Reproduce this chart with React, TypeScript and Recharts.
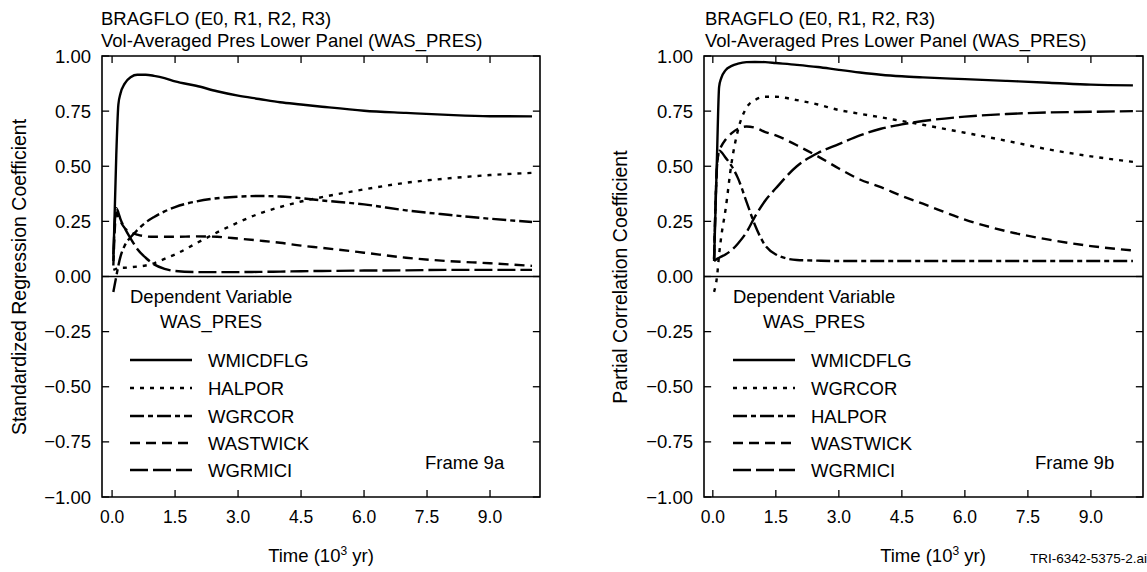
import React from "react";
import { LineChart, Line, XAxis, YAxis, ReferenceLine, ReferenceArea } from "recharts";

// time in 10^3 yr
const TIME = [0.03, 0.1, 0.15, 0.2, 0.3, 0.45, 0.6, 0.8, 1.0, 1.25, 1.5, 2.0, 2.5, 3.0, 3.5, 4.0, 4.5, 5.0, 6.0, 7.0, 8.0, 9.0, 10.0];

// Frame 9a - standardized regression coefficients
const SRC_WMICDFLG = [0.07, 0.55, 0.78, 0.83, 0.875, 0.905, 0.915, 0.915, 0.91, 0.9, 0.885, 0.865, 0.84, 0.82, 0.805, 0.79, 0.78, 0.77, 0.752, 0.742, 0.733, 0.727, 0.726];
const SRC_HALPOR = [0.03, 0.035, 0.04, 0.04, 0.04, 0.042, 0.045, 0.05, 0.06, 0.08, 0.1, 0.15, 0.2, 0.245, 0.285, 0.315, 0.34, 0.36, 0.395, 0.425, 0.445, 0.46, 0.47];
const SRC_WGRCOR = [-0.07, 0.0, 0.05, 0.09, 0.14, 0.18, 0.21, 0.245, 0.27, 0.295, 0.315, 0.34, 0.355, 0.362, 0.365, 0.363, 0.355, 0.345, 0.327, 0.3, 0.28, 0.262, 0.247];
const SRC_WASTWICK = [0.05, 0.29, 0.27, 0.25, 0.22, 0.2, 0.19, 0.182, 0.18, 0.18, 0.18, 0.182, 0.18, 0.172, 0.163, 0.153, 0.14, 0.13, 0.108, 0.085, 0.07, 0.06, 0.048];
const SRC_WGRMICI = [0.1, 0.31, 0.29, 0.26, 0.22, 0.17, 0.125, 0.085, 0.055, 0.035, 0.025, 0.02, 0.02, 0.02, 0.021, 0.022, 0.024, 0.025, 0.027, 0.028, 0.03, 0.03, 0.03];

// Frame 9b - partial correlation coefficients
const PCC_WMICDFLG = [0.07, 0.55, 0.86, 0.9, 0.935, 0.955, 0.965, 0.972, 0.973, 0.972, 0.968, 0.96, 0.95, 0.937, 0.925, 0.915, 0.908, 0.903, 0.895, 0.887, 0.879, 0.87, 0.867];
const PCC_WGRCOR = [-0.07, 0.0, 0.1, 0.18, 0.3, 0.52, 0.665, 0.765, 0.8, 0.815, 0.815, 0.8, 0.78, 0.755, 0.738, 0.722, 0.705, 0.688, 0.652, 0.615, 0.576, 0.545, 0.52];
const PCC_HALPOR = [0.08, 0.5, 0.57, 0.565, 0.54, 0.5, 0.445, 0.34, 0.235, 0.14, 0.1, 0.075, 0.072, 0.07, 0.07, 0.07, 0.07, 0.07, 0.07, 0.07, 0.07, 0.07, 0.07];
const PCC_WASTWICK = [0.08, 0.5, 0.57, 0.59, 0.62, 0.65, 0.67, 0.68, 0.675, 0.655, 0.64, 0.595, 0.545, 0.49, 0.44, 0.405, 0.365, 0.33, 0.258, 0.205, 0.167, 0.138, 0.118];
const PCC_WGRMICI = [0.07, 0.08, 0.085, 0.09, 0.1, 0.12, 0.15, 0.2, 0.27, 0.345, 0.4, 0.5, 0.56, 0.6, 0.64, 0.67, 0.69, 0.705, 0.725, 0.737, 0.744, 0.747, 0.75];

const LEFT_NAMES = ["WMICDFLG", "HALPOR", "WGRCOR", "WASTWICK", "WGRMICI"];
const RIGHT_NAMES = ["WMICDFLG", "WGRCOR", "HALPOR", "WASTWICK", "WGRMICI"];

const X_TICKS = [0, 1.5, 3, 4.5, 6, 7.5, 9];
const Y_TICKS = [-1, -0.75, -0.5, -0.25, 0, 0.25, 0.5, 0.75, 1];

// line style by legend rank
const DASHES = [undefined, "4 6", "14 4 5 4", "10 6", "18 5"];

const FONT = "'Liberation Sans', Arial, Helvetica, sans-serif";
const INK = "#000";

const buildRows = (series: number[][]) =>
  TIME.map((t, i) => {
    const row: Record<string, number> = { t };
    series.forEach((s, k) => (row["s" + k] = s[i]));
    return row;
  });

const fmtY = (v: number) => (v < 0 ? "\u2212" + Math.abs(v).toFixed(2) : v.toFixed(2));

function Panel({
  series,
  domain,
  margin,
  width,
}: {
  series: number[][];
  domain: [number, number];
  margin: { top: number; left: number; right: number; bottom: number };
  width: number;
}) {
  const rows = buildRows(series);
  const tx = 0.17; // ~7px in x units
  const ty = 0.032; // ~7px in y units
  return (
    <LineChart width={width} height={572} data={rows} margin={margin}>
      <XAxis
        dataKey="t"
        type="number"
        domain={domain}
        allowDataOverflow
        ticks={X_TICKS}
        tickFormatter={(v: number) => v.toFixed(1)}
        tickLine={false}
        axisLine={false}
        tickSize={0}
        tickMargin={14}
        height={30}
        tick={{ fill: INK, fontSize: 17.5, fontFamily: FONT }}
      />
      <YAxis
        type="number"
        domain={[-1, 1]}
        ticks={Y_TICKS}
        tickFormatter={fmtY}
        tickLine={false}
        axisLine={false}
        tickSize={0}
        tickMargin={11}
        width={60}
        tick={{ fill: INK, fontSize: 18.5, fontFamily: FONT }}
      />
      <ReferenceArea x1={domain[0]} x2={domain[1]} y1={-1} y2={1} fill="none" stroke={INK} strokeWidth={1.6} ifOverflow="extendDomain" />
      <ReferenceLine y={0} stroke={INK} strokeWidth={1.4} />
      {X_TICKS.map((t) => (
        <ReferenceLine key={"xb" + t} segment={[{ x: t, y: -1 }, { x: t, y: -1 + ty }]} stroke={INK} strokeWidth={1.3} />
      ))}
      {X_TICKS.map((t) => (
        <ReferenceLine key={"xt" + t} segment={[{ x: t, y: 1 }, { x: t, y: 1 - ty }]} stroke={INK} strokeWidth={1.3} />
      ))}
      {Y_TICKS.map((v) => (
        <ReferenceLine key={"yl" + v} segment={[{ x: domain[0], y: v }, { x: domain[0] + tx, y: v }]} stroke={INK} strokeWidth={1.3} />
      ))}
      {Y_TICKS.map((v) => (
        <ReferenceLine key={"yr" + v} segment={[{ x: domain[1], y: v }, { x: domain[1] - tx, y: v }]} stroke={INK} strokeWidth={1.3} />
      ))}
      {series.map((_, k) => (
        <Line
          key={k}
          dataKey={"s" + k}
          type="monotone"
          stroke={INK}
          strokeWidth={2.4}
          strokeDasharray={DASHES[k]}
          dot={false}
          isAnimationActive={false}
        />
      ))}
    </LineChart>
  );
}

function LegendBlock({ x, names }: { x: number; names: string[] }) {
  const rowsY = [360, 388, 416, 443, 470];
  return (
    <g fontFamily={FONT} fontSize={18.5} fill={INK}>
      <text x={x} y={303}>Dependent Variable</text>
      <text x={x + 30} y={328}>WAS_PRES</text>
      {names.map((n, k) => (
        <g key={n}>
          <line x1={x} x2={x + 62} y1={rowsY[k]} y2={rowsY[k]} stroke={INK} strokeWidth={2.4} strokeDasharray={DASHES[k]} />
          <text x={x + 78} y={rowsY[k] + 6.5}>{n}</text>
        </g>
      ))}
    </g>
  );
}

export default function App() {
  return (
    <div style={{ position: "absolute", left: 0, top: 0, width: 1147, height: 572, background: "#fff", overflow: "hidden" }}>
      <div style={{ position: "absolute", left: 0, top: 0 }}>
        <Panel
          series={[SRC_WMICDFLG, SRC_HALPOR, SRC_WGRCOR, SRC_WASTWICK, SRC_WGRMICI]}
          domain={[-0.24, 10.19]}
          margin={{ top: 56, left: 42, right: 50, bottom: 45 }}
          width={590}
        />
      </div>
      <div style={{ position: "absolute", left: 590, top: 0 }}>
        <Panel
          series={[PCC_WMICDFLG, PCC_WGRCOR, PCC_HALPOR, PCC_WASTWICK, PCC_WGRMICI]}
          domain={[-0.21, 10.24]}
          margin={{ top: 56, left: 54, right: 4, bottom: 45 }}
          width={557}
        />
      </div>
      <svg width={1147} height={572} style={{ position: "absolute", left: 0, top: 0, pointerEvents: "none" }}>
        <g fontFamily={FONT} fontSize={18.5} fill={INK}>
          <text x={101} y={25}>BRAGFLO (E0, R1, R2, R3)</text>
          <text x={101} y={47}>Vol-Averaged Pres Lower Panel (WAS_PRES)</text>
          <text x={705} y={25}>BRAGFLO (E0, R1, R2, R3)</text>
          <text x={705} y={47}>Vol-Averaged Pres Lower Panel (WAS_PRES)</text>
          <text transform="translate(26,277) rotate(-90)" textAnchor="middle" fontSize={19.5}>Standardized Regression Coefficient</text>
          <text transform="translate(627,277) rotate(-90)" textAnchor="middle" fontSize={19.5}>Partial Correlation Coefficient</text>
          <text x={321} y={562} textAnchor="middle">
            Time (10<tspan fontSize={12} dy={-7}>3</tspan><tspan dy={7}> yr)</tspan>
          </text>
          <text x={933} y={562} textAnchor="middle">
            Time (10<tspan fontSize={12} dy={-7}>3</tspan><tspan dy={7}> yr)</tspan>
          </text>
          <text x={1030} y={563} fontSize={13.5}>TRI-6342-5375-2.ai</text>
          <text x={425} y={469}>Frame 9a</text>
          <text x={1035} y={469}>Frame 9b</text>
        </g>
        <LegendBlock x={130} names={LEFT_NAMES} />
        <LegendBlock x={733} names={RIGHT_NAMES} />
      </svg>
    </div>
  );
}
